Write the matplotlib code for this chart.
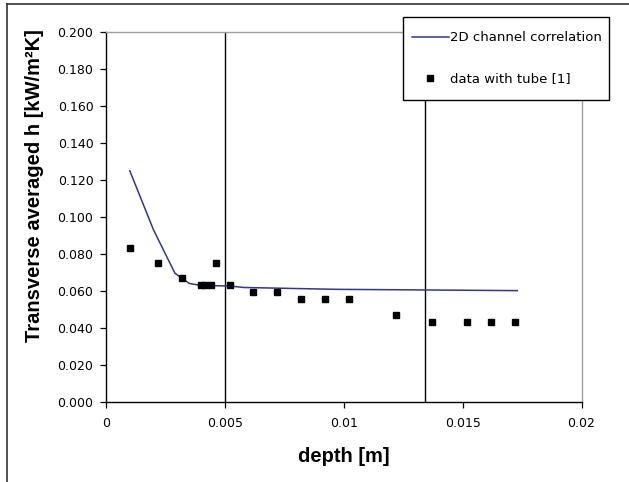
import matplotlib
matplotlib.use("Agg")
import matplotlib.pyplot as plt
from matplotlib.lines import Line2D
from matplotlib.patches import Rectangle
from matplotlib.ticker import FixedLocator, FixedFormatter, FormatStrFormatter

# ---- data ----
corr_depth = [0.001, 0.002, 0.0029, 0.0035, 0.004, 0.0052, 0.0058, 0.0097, 0.0173]
corr_h = [0.125, 0.093, 0.0696, 0.0641, 0.063, 0.0627, 0.0619, 0.0609, 0.0602]

tube_depth = [0.001, 0.0022, 0.0032, 0.0040, 0.00418, 0.0044, 0.00464, 0.0052,
              0.0062, 0.0072, 0.0082, 0.0092, 0.0102, 0.0122, 0.0137, 0.0152,
              0.0162, 0.0172]
tube_h = [0.083, 0.075, 0.067, 0.063, 0.063, 0.063, 0.075, 0.063,
          0.0595, 0.0595, 0.0555, 0.0555, 0.0555, 0.047, 0.0435, 0.0435,
          0.0435, 0.0435]

vlines_depth = [0.005, 0.0134]

xticks = [0, 0.005, 0.01, 0.015, 0.02]
xtick_labels = ["0", "0.005", "0.01", "0.015", "0.02"]
yticks = [0.0, 0.02, 0.04, 0.06, 0.08, 0.10, 0.12, 0.14, 0.16, 0.18, 0.20]

W, H = 629, 482
fig = plt.figure(figsize=(W / 100, H / 100), dpi=100)
L, R, T, B = 106, 581.5, 32, 402
ax = fig.add_axes([L / W, 1 - B / H, (R - L) / W, (B - T) / H])

ax.plot(corr_depth, corr_h, color="#3333a0", lw=1.1, label="2D channel correlation", zorder=3)
ax.plot(tube_depth, tube_h, ls="none", marker="s", ms=5, color="black",
        label="data with tube [1]", zorder=4)
for xv in vlines_depth:
    ax.axvline(xv, color="black", lw=1.0, zorder=2)

ax.set_xlim(0, 0.02)
ax.set_ylim(0, 0.2)
ax.xaxis.set_major_locator(FixedLocator(xticks))
ax.xaxis.set_major_formatter(FixedFormatter(xtick_labels))
ax.yaxis.set_major_locator(FixedLocator(yticks))
ax.yaxis.set_major_formatter(FormatStrFormatter("%.3f"))

for s in ["left", "bottom"]:
    ax.spines[s].set_color("black")
    ax.spines[s].set_linewidth(1.0)
for s in ["top", "right"]:
    ax.spines[s].set_color("#a0a0a0")
    ax.spines[s].set_linewidth(1.0)

ax.tick_params(axis="both", direction="out", length=4, width=0.9, color="black")
ax.tick_params(axis="y", pad=5)
ax.tick_params(axis="x", pad=7)
for lab in ax.get_xticklabels() + ax.get_yticklabels():
    lab.set_fontfamily("DejaVu Sans")
    lab.set_fontsize(9)

ax.set_xlabel("depth [m]", fontfamily="Liberation Sans", fontweight="bold", fontsize=14.5)
ax.set_ylabel("Transverse averaged h [kW/m²K]", fontfamily="Liberation Sans",
              fontweight="bold", fontsize=14.5)
ax.xaxis.set_label_coords(0.5, (B - 456) / (B - T))
ax.yaxis.set_label_coords((35 - L) / (R - L), (B - 186) / (B - T))
ax.xaxis.label.set_va("center")
ax.yaxis.label.set_va("center")

# legend frame drawn as a box in figure pixels, entries via legend without frame
ax.add_patch(Rectangle((403 / W, 1 - 100 / H), (609 - 403) / W, (100 - 17) / H,
                       transform=fig.transFigure, facecolor="white", clip_on=False,
                       edgecolor="black", lw=1.0, zorder=9))
leg = ax.legend(loc="upper left", bbox_to_anchor=(401 / W, 1 - 20 / H),
                bbox_transform=fig.transFigure, prop={"family": "DejaVu Sans", "size": 9.5},
                frameon=False, borderpad=0.85, labelspacing=2.13, handlelength=2.75,
                handletextpad=0.1, borderaxespad=0, markerscale=1.0)
leg.set_zorder(10)

# outer frame of the figure (top and left edges visible)
fig.add_artist(Line2D([7 / W, 1], [1 - 4 / H, 1 - 4 / H], transform=fig.transFigure,
                      color="#333333", lw=1.2))
fig.add_artist(Line2D([7 / W, 7 / W], [0, 1 - 4 / H], transform=fig.transFigure,
                      color="#333333", lw=1.2))

fig.savefig("out.png", dpi=100)
